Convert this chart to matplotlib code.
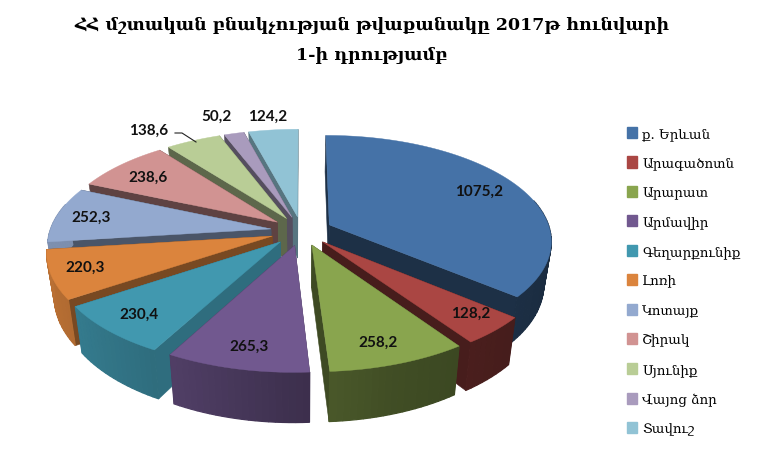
import numpy as np
import matplotlib
matplotlib.use("Agg")
import matplotlib.pyplot as plt
from matplotlib.patches import Polygon, Patch
from matplotlib.colors import to_rgb

regions = ["ք. Երևան", "Արագածոտն", "Արարատ", "Արմավիր", "Գեղարքունիք", "Լոռի",
           "Կոտայք", "Շիրակ", "Սյունիք", "Վայոց ձոր", "Տավուշ"]
values = [1075.2, 128.2, 258.2, 265.3, 230.4, 220.3, 252.3, 238.6, 138.6, 50.2, 124.2]
value_labels = ["1075,2", "128,2", "258,2", "265,3", "230,4", "220,3", "252,3", "238,6", "138,6", "50,2", "124,2"]
title_lines = ["ՀՀ մշտական բնակչության թվաքանակը 2017թ հունվարի", "1-ի դրությամբ"]

colors = ["#4572A7", "#AA4643", "#89A54E", "#71588F", "#4198AF", "#DB843D",
          "#93A9CF", "#D19392", "#B9CD96", "#A99BBD", "#91C3D5"]
side_shade = [0.42, 0.42, 0.45, 0.6, 0.72, 0.55, 0.5, 0.45, 0.5, 0.5, 0.6]
label_xy = [(479, 192), (471, 314), (378, 343), (249, 347), (139, 315), (85, 268),
            (91, 218), (148, 178), (149, 131), (217, 117), (268, 117)]

CX, CY = 301.5, 232
RX, RY = 221, 104
PERSP = 0.144
DEPTH = 42
EXPLODE = 0.14


def project(x, y, z=0.0):
    s = 1 / (1 - PERSP * y)
    return CX + x * RX * s * (1 - 0.03 * z), CY + (y * RY + DEPTH * z) * s


def shade(col, f):
    return tuple(c * f for c in to_rgb(col))


def draw_slice(ax, a0, a1, col, radial_f):
    mid = (a0 + a1) / 2
    ox, oy = EXPLODE * np.sin(mid), -EXPLODE * np.cos(mid)
    ang = np.linspace(a0, a1, max(int((a1 - a0) * 40), 4))
    xs = np.sin(ang) + ox
    ys = -np.cos(ang) + oy

    # radial walls first, then the rim, the top goes on last
    for a in (a0, a1):
        ex, ey = np.sin(a) + ox, -np.cos(a) + oy
        pts = [project(ox, oy), project(ex, ey), project(ex, ey, 1), project(ox, oy, 1)]
        c = shade(col, radial_f)
        ax.add_patch(Polygon(pts, closed=True, fc=c, ec=c, lw=0.4))
    for i in range(len(ang) - 1):
        am = (ang[i] + ang[i + 1]) / 2
        if np.cos(am) > 0.25:
            continue
        f = np.interp(np.sin(am), [-1, -0.5, 0, 0.3, 1], [0.85, 0.72, 0.55, 0.47, 0.38])
        pts = [project(xs[i], ys[i]), project(xs[i + 1], ys[i + 1]),
               project(xs[i + 1], ys[i + 1], 1), project(xs[i], ys[i], 1)]
        c = shade(col, f)
        ax.add_patch(Polygon(pts, closed=True, fc=c, ec=c, lw=0.9))
    top = [project(ox, oy)] + [project(x, y) for x, y in zip(xs, ys)]
    ax.add_patch(Polygon(top, closed=True, fc=col, ec=col, lw=0.3))


fig = plt.figure(figsize=(7.8, 4.64), dpi=100)
ax = fig.add_axes([0, 0, 1, 1])
ax.set_xlim(0, 780)
ax.set_ylim(464, 0)
ax.axis("off")

edges = np.concatenate([[0], np.cumsum(values)]) / sum(values) * 2 * np.pi
mids = (edges[:-1] + edges[1:]) / 2
# back slices first
for i in np.argsort(-np.cos(mids)):
    draw_slice(ax, edges[i], edges[i + 1], colors[i], side_shade[i])

for txt, (x, y) in zip(value_labels, label_xy):
    ax.text(x, y, txt, ha="center", va="center", fontsize=11, fontweight="bold",
            family=["Lato", "DejaVu Sans"], color="#111111")
ax.plot([175, 182, 196], [134, 134, 143], color="#222222", lw=0.8)

serif = ["DejaVu Serif", "DejaVu Sans"]
ax.text(372, 25, title_lines[0], ha="center", va="center", fontsize=12.5,
        fontweight="bold", family=serif, color="black")
ax.text(372, 55, title_lines[1], ha="center", va="center", fontsize=12.5,
        fontweight="bold", family=serif, color="black")

handles = [Patch(fc=c, ec=c) for c in colors]
ax.legend(handles, regions, loc="upper left", bbox_to_anchor=(627 / 780, 1 - 128 / 464),
          frameon=False, prop={"family": serif, "size": 9.6}, labelspacing=1.225,
          handlelength=0.75, handleheight=0.9, handletextpad=0.4, borderpad=0, borderaxespad=0)

fig.savefig("out.png", dpi=100)
